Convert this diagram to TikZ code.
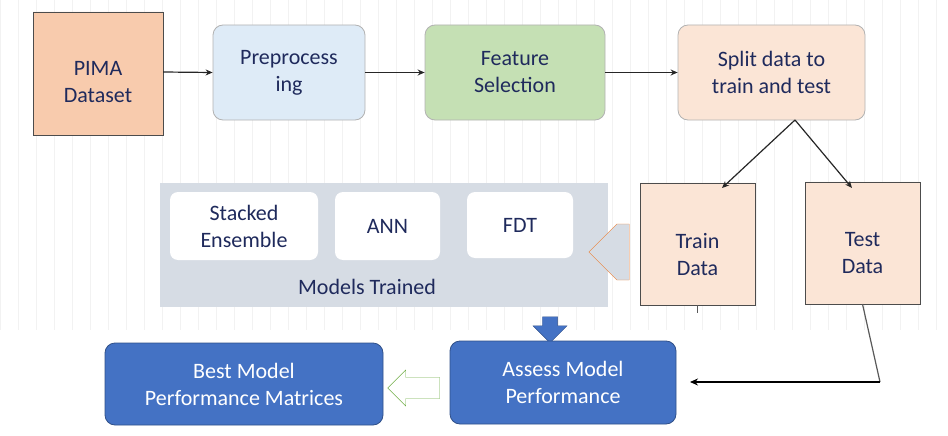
\documentclass[tikz,border=0pt]{standalone}
\usepackage{fontspec}
\setmainfont{Carlito}
\usetikzlibrary{shapes.geometric,shapes.arrows,arrows.meta}
\definecolor{txt}{HTML}{1F2A5C}
\definecolor{blu}{HTML}{4472C4}
\definecolor{pimaC}{HTML}{F8CBAD}
\definecolor{preC}{HTML}{DEEBF7}
\definecolor{fsC}{HTML}{C5E0B4}
\definecolor{peach}{HTML}{FBE5D6}
\definecolor{panelC}{HTML}{D6DCE4}
\definecolor{orgC}{HTML}{ED7D31}
\definecolor{grnC}{HTML}{70AD47}
\begin{document}
\begin{tikzpicture}[x=1pt,y=-1pt,
  every node/.style={font=\fontsize{22}{27}\selectfont,text=txt,align=center},
  dcyl/.style={cylinder,shape border rotate=90,aspect=0.3,draw=gray!60!black,fill=#1,inner sep=0pt},
  box/.style={draw=#1,rounded corners=10pt,line width=0.8pt},
  wbox/.style={fill=white,rounded corners=8pt,inner sep=0pt},
  flow/.style={-{Stealth[length=7pt,width=6pt]},line width=1.2pt,draw=gray!30!black}]
\useasboundingbox (0,0) rectangle (948,436);
\draw[gray!10,step=18] (0,0) grid (948,330);
% PIMA
\node[dcyl=pimaC,minimum width=130,minimum height=123] (pima) at (98,73.5) {};
\node at (98,82) {PIMA\\Dataset};
\node[box=gray!60,fill=preC,minimum width=152,minimum height=95] (pre) at (289,72.5) {Preprocess\\ing};
\node[box=gray!60,fill=fsC,minimum width=180,minimum height=95] (fs) at (515,72.5) {Feature\\Selection};
\node[box=gray!60,fill=peach,minimum width=187,minimum height=95] (split) at (771.5,72.5) {Split data to\\train and test};
\draw[flow] (pima.east |- 0,72) -- (pre.west);
\draw[flow] (pre.east) -- (fs.west);
\draw[flow] (fs.east) -- (split.west);
% panel
\node[fill=panelC,minimum width=448,minimum height=124,inner sep=0pt] (panel) at (384,245) {};
\node[wbox,minimum width=148,minimum height=68] (se) at (244,226) {Stacked\\Ensemble};
\node[wbox,minimum width=105,minimum height=68] (ann) at (387.5,226) {ANN};
\node[wbox,minimum width=106,minimum height=66] (fdt) at (520,225) {FDT};
\node (mt) at (367,287) {Models Trained};
% cylinders
\node[dcyl=peach,minimum width=115,minimum height=122] (train) at (697.5,244) {};
\node at (697.5,255) {Train\\Data};
\node[dcyl=peach,minimum width=115,minimum height=122] (test) at (862.5,243) {};
\node at (862.5,253) {Test\\Data};
\coordinate (sp) at (795,120);
\draw[flow] (sp) -- (722,188);
\draw[flow] (sp) -- (852,188);
% block arrow train->panel
\node[single arrow,shape border rotate=180,draw=orgC,fill=panelC,minimum height=33,minimum width=56,single arrow head extend=0pt,inner sep=6pt] (barr) at (623,252) {};
\draw[gray!70!black,line width=1pt] (train.bottom) -- ++(0,8);
% blue down arrow
\node[single arrow,shape border rotate=270,draw=blu!70!black,fill=blu,minimum height=26,minimum width=34,single arrow head extend=4pt,inner sep=3pt] (darr) at (550,326) {};
% bottom boxes
\node[box=blu!70!black,fill=blu,minimum width=226,minimum height=83,text=white] (assess) at (563,382.5) {Assess Model\\Performance};
\node[box=blu!70!black,fill=blu,minimum width=278,minimum height=82,text=white] (best) at (244,384) {Best Model\\Performance Matrices};
\node[single arrow,shape border rotate=180,draw=grnC,fill=white,minimum height=52,minimum width=36,single arrow head extend=3pt,inner sep=4pt] (garr) at (419,388) {};
\coordinate (corner) at (880,382);
\draw[gray!70!black,line width=1.2pt] (test.bottom) -- (corner);
\draw[-{Stealth[length=8pt,width=7pt]},line width=2pt,black] (corner) -- (690,382);
\end{tikzpicture}
\end{document}
